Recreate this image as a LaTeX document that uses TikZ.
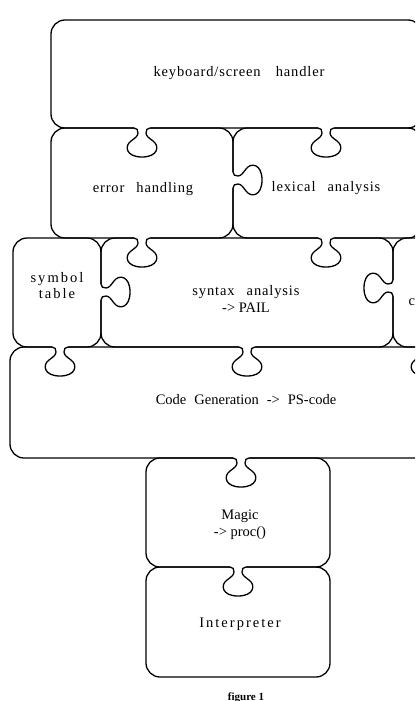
\documentclass[tikz,border=0pt]{standalone}
\usepackage{fontspec}
\setmainfont{Liberation Serif}
\newfontfamily\trk{Liberation Serif}[LetterSpace=6]
\newfontfamily\trkw{Liberation Serif}[LetterSpace=14]
\tikzset{
  knob/.pic={
    \fill[white] (-8,-1.6) -- (-8,0) .. controls (-5,0) and (-4,2) .. (-4,5)
      .. controls (-4,8) and (-7,10) .. (-11,13)
      .. controls (-18,18) and (-16,29) .. (0,29)
      .. controls (16,29) and (18,18) .. (11,13)
      .. controls (7,10) and (4,8) .. (4,5)
      .. controls (4,2) and (5,0) .. (8,0) -- (8,-1.6) -- cycle;
    \draw (-8,0) .. controls (-5,0) and (-4,2) .. (-4,5)
      .. controls (-4,8) and (-7,10) .. (-11,13)
      .. controls (-18,18) and (-16,29) .. (0,29)
      .. controls (16,29) and (18,18) .. (11,13)
      .. controls (7,10) and (4,8) .. (4,5)
      .. controls (4,2) and (5,0) .. (8,0);
  }
}
\begin{document}
\begin{tikzpicture}[x=1pt,y=-1pt,line width=1.3pt,
  piece/.style={draw,rounded corners=14pt},
  lbl/.style={anchor=base,inner sep=0pt,font=\trk\fontsize{14.5}{17}\selectfont},
  lblp/.style={anchor=base,inner sep=0pt,font=\fontsize{14.5}{17}\selectfont},
  lblw/.style={anchor=base,inner sep=0pt,font=\trkw\fontsize{14.5}{17}\selectfont},
  figcaption/.style={anchor=base,inner sep=0pt,font=\bfseries\fontsize{11}{13}\selectfont}]
\useasboundingbox (0,0) rectangle (415,701);
\fill[white] (0,0) rectangle (415,701);
\clip (0,0) rectangle (415,701);
% pieces
\draw[piece] (51,20) rectangle (422,128);
\draw[piece] (51,128) rectangle (233,238);
\draw[piece] (233,128) rectangle (422,238);
\draw[piece] (13,238) rectangle (101,347);
\draw[piece] (101,238) rectangle (393,347);
\draw[piece] (393,238) rectangle (480,347);
\draw[piece] (10,347) rectangle (480,458);
\draw[piece] (146,458) rectangle (330,567);
\draw[piece] (146,567) rectangle (330,677);
% knobs
\pic at (142,128) {knob};
\pic at (326,128) {knob};
\pic[rotate=90] at (233,180) {knob};
\pic at (142,238) {knob};
\pic at (326,238) {knob};
\pic[rotate=90] at (101,292) {knob};
\pic[rotate=-90] at (393,288) {knob};
\pic at (60,347) {knob};
\pic at (247,347) {knob};
\pic at (426,347) {knob};
\pic at (241,458) {knob};
\pic at (238,567) {knob};
% labels
\node[lbl] (kb) at (239,76) {keyboard/screen\hspace{15pt}handler};
\node[lbl] (err) at (143,192) {error\hspace{12pt}handling};
\node[lbl] (lex) at (326,191) {lexical\hspace{12pt}analysis};
\node[lblw] (sym1) at (57,282) {symbol};
\node[lblw] (sym2) at (57,298) {table};
\node[lbl] (syn1) at (246,295) {syntax\hspace{12pt}analysis};
\node[lblp] (syn2) at (246,312.5) {-> PAIL};
\node[lbl,anchor=base west] (cc) at (408,305) {c};
\node[lblp] (code) at (246,404) {Code\hspace{8pt}Generation\hspace{8pt}->\hspace{8pt}PS-code};
\node[lblp] (mag1) at (240,519) {Magic};
\node[lblp] (mag2) at (240,536.5) {-> proc()};
\node[lblw] (int) at (240,627) {Interpreter};
\node[figcaption] (fig) at (246,700) {figure 1};
\end{tikzpicture}
\end{document}
